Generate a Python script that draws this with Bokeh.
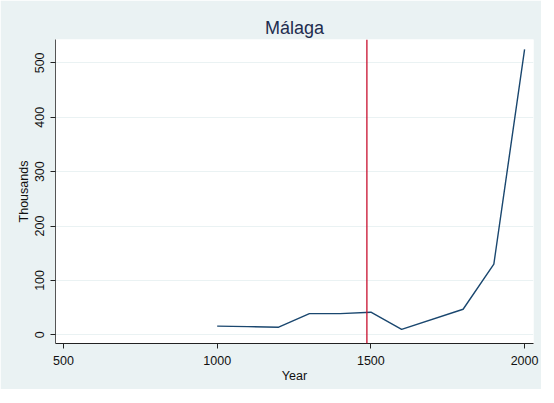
from bokeh.plotting import figure
from bokeh.models import Range1d, Span, FixedTicker
from bokeh.embed import file_html
from bokeh.resources import INLINE

years = [1000, 1100, 1200, 1300, 1400, 1500, 1600, 1800, 1900, 2000]
population = [16, 15, 14, 39, 39, 41.5, 10, 47, 130, 525]
event_year = 1487
x_ticks = [500, 1000, 1500, 2000]
y_ticks = [0, 100, 200, 300, 400, 500]

BG = "#EAF2F3"
FONT = "Liberation Sans"

p = figure(width=541, height=389, output_backend="svg", toolbar_location=None,
           x_range=Range1d(474, 2029), y_range=Range1d(-16, 543),
           min_border_left=55, min_border_right=8, min_border_top=39, min_border_bottom=46)
p.background_fill_color = "white"
p.border_fill_color = BG
p.outline_line_color = None

p.title.text = "Málaga"
p.title.align = "center"
p.title.text_font = FONT
p.title.text_font_size = "18px"
p.title.text_font_style = "normal"
p.title.text_color = "#1E2D4F"
p.title.standoff = 4

p.xgrid.grid_line_color = None
p.ygrid.grid_line_color = BG
p.ygrid.grid_line_width = 1

for ax in (p.xaxis[0], p.yaxis[0]):
    ax.axis_line_color = "#222222"
    ax.major_tick_line_color = "#222222"
    ax.major_tick_out = 5
    ax.major_tick_in = 0
    ax.minor_tick_line_color = None
    ax.major_label_text_font = FONT
    ax.major_label_text_font_size = "12.5px"
    ax.major_label_text_color = "#111111"
    ax.axis_label_text_font = FONT
    ax.axis_label_text_font_size = "12.5px"
    ax.axis_label_text_font_style = "normal"
    ax.axis_label_text_color = "#111111"

p.xaxis.ticker = FixedTicker(ticks=x_ticks)
p.yaxis.ticker = FixedTicker(ticks=y_ticks)
p.yaxis.major_label_orientation = "vertical"
p.xaxis.axis_label = "Year"
p.yaxis.axis_label = "Thousands"
p.xaxis.axis_label_standoff = 1
p.yaxis.axis_label_standoff = 2
p.xaxis.major_label_standoff = 7
p.yaxis.major_label_standoff = 6
p.yaxis.axis_line_color = "#555555"

p.line(years, population, line_color="#1A476F", line_width=1.4)
p.add_layout(Span(location=event_year, dimension="height", line_color="#C8102E", line_width=1.3))

open("out.html", "w").write(file_html(p, INLINE))
